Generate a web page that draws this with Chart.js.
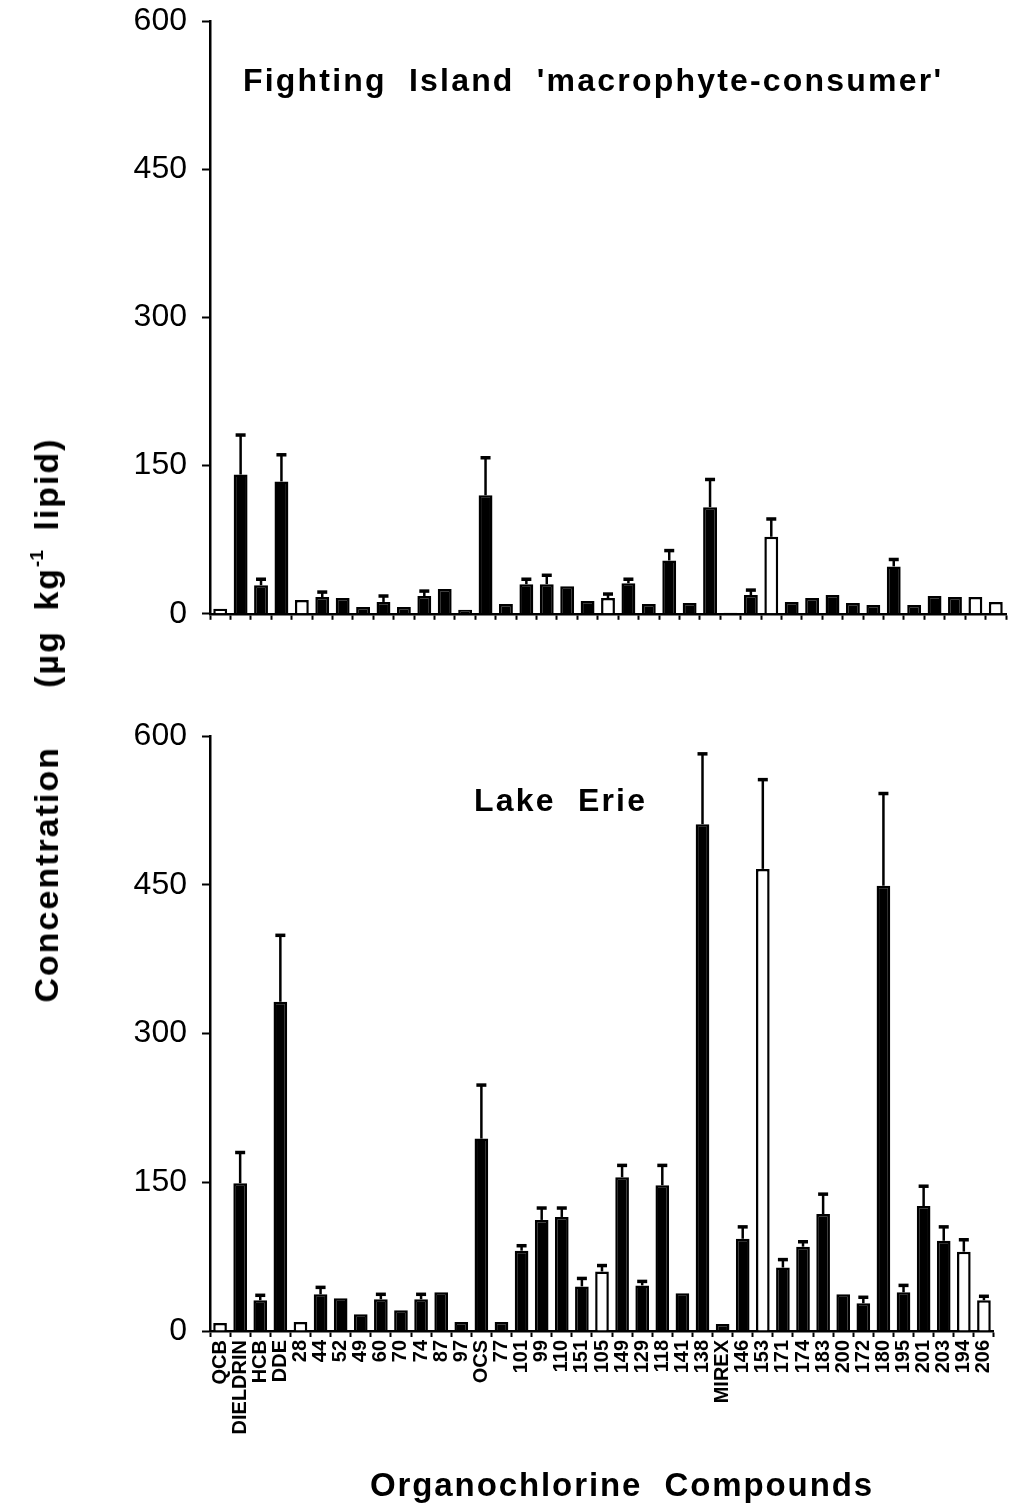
<!DOCTYPE html>
<html>
<head>
<meta charset="utf-8">
<script src="https://cdn.jsdelivr.net/npm/chart.js@4.4.1/dist/chart.umd.min.js"></script>
<style>
  body { margin: 0; background: #fff; }
  #wrap { position: relative; width: 1011px; height: 1509px; background: #fff; overflow: hidden; }
  canvas { position: absolute; left: 0; }
  .lbl { position: absolute; font-family: 'Liberation Sans', Arial, sans-serif; font-weight: bold; color: #000; white-space: pre; line-height: 1; }
  #ytitle { left: 45px; top: 720px; font-size: 34px; letter-spacing: 2px; word-spacing: 8px; transform: translate(-50%, -50%) rotate(-90deg); }
  #ytitle sup { font-size: 19px; vertical-align: 15px; letter-spacing: 0; }
</style>
</head>
<body>
<div id="wrap">
  <canvas id="top" width="1011" height="661" style="top:-13px"></canvas>
  <canvas id="bottom" width="1011" height="809" style="top:700px"></canvas>
  <div class="lbl" style="left:243px; top:64px; font-size:32px; letter-spacing:2.2px;">Fighting  Island  'macrophyte-consumer'</div>
  <div class="lbl" style="left:474px; top:784px; font-size:32px; letter-spacing:2.2px;">Lake  Erie</div>
  <div class="lbl" style="left:370px; top:1468px; font-size:33px; letter-spacing:1.9px;">Organochlorine  Compounds</div>
  <div class="lbl" id="ytitle">Concentration   (µg kg<sup>-1</sup> lipid)</div>
</div>
<script>
// compounds along the x axis
const compounds = ['QCB', 'DIELDRIN', 'HCB', 'DDE', '28', '44', '52', '49', '60', '70', '74', '87', '97',
  'OCS', '77', '101', '99', '110', '151', '105', '149', '129', '118', '141', '138', 'MIREX',
  '146', '153', '171', '174', '183', '200', '172', '180', '195', '201', '203', '194', '206'];

// compounds drawn as open (white) bars
const openBars = ['QCB', '28', '105', '153', '194', '206'];

// Fighting Island 'macrophyte-consumer' (ug/kg lipid)
const fightingMean = [5, 141, 29, 134, 14, 17, 16, 7, 12, 7, 18, 25, 4,
  120, 10, 30, 30, 28, 13, 16, 31, 10, 54, 11, 108, 1,
  19, 78, 12, 16, 19, 11, 9, 48, 9, 18, 17, 17, 12];
const fightingSD = [0, 40, 6, 27, 0, 5, 0, 0, 6, 0, 5, 0, 0,
  38, 0, 5, 9, 0, 0, 4, 4, 0, 10, 0, 28, 0,
  5, 18, 0, 0, 0, 0, 0, 7, 0, 0, 0, 0, 0];

// Lake Erie
const erieMean = [8, 149, 31, 332, 9, 37, 33, 17, 32, 21, 32, 39, 9,
  194, 9, 81, 112, 115, 45, 60, 155, 46, 147, 38, 511, 7,
  93, 466, 64, 85, 118, 37, 28, 449, 39, 126, 91, 80, 31];
const erieSD = [0, 31, 5, 67, 0, 7, 0, 0, 5, 0, 5, 0, 0,
  54, 0, 5, 12, 9, 8, 6, 12, 4, 20, 0, 71, 0,
  12, 90, 8, 5, 20, 0, 6, 93, 7, 20, 14, 12, 4];

const yTicks = [0, 150, 300, 450, 600];

const FONT = "'Liberation Sans', Arial, sans-serif";

// draws the +SD whiskers on top of each bar
const errorBars = {
  id: 'errorBars',
  afterDatasetsDraw(chart, args, opts) {
    const ctx = chart.ctx;
    const y = chart.scales.y;
    const meta = chart.getDatasetMeta(0);
    ctx.save();
    ctx.strokeStyle = '#000';
    meta.data.forEach((bar, i) => {
      const sd = opts.sd[i];
      if (!sd) return;
      const top = y.getPixelForValue(opts.mean[i] + sd);
      const base = y.getPixelForValue(opts.mean[i]);
      ctx.lineWidth = 2.5;
      ctx.beginPath();
      ctx.moveTo(bar.x, base);
      ctx.lineTo(bar.x, top);
      ctx.stroke();
      ctx.lineWidth = 3.5;
      ctx.beginPath();
      ctx.moveTo(bar.x - 5, top);
      ctx.lineTo(bar.x + 5, top);
      ctx.stroke();
    });
    ctx.restore();
  }
};

function makePanel(canvasId, mean, sd, showLabels, padTop, xHeight) {
  const fills = compounds.map(c => openBars.includes(c) ? '#fff' : '#000');
  return new Chart(document.getElementById(canvasId), {
    type: 'bar',
    data: {
      labels: compounds,
      datasets: [{
        data: mean,
        backgroundColor: fills,
        borderColor: '#000',
        borderWidth: 2.5,
        borderSkipped: 'bottom',
        categoryPercentage: 1,
        barPercentage: 0.68,
      }],
    },
    options: {
      responsive: false,
      animation: false,
      devicePixelRatio: 1,
      layout: { padding: { top: padTop, right: 5, left: 0, bottom: 0 } },
      plugins: {
        legend: { display: false },
        tooltip: { enabled: false },
        errorBars: { mean: mean, sd: sd },
      },
      scales: {
        x: {
          border: { color: '#000', width: 2.5 },
          grid: { drawOnChartArea: false, drawTicks: true, tickLength: 6, tickColor: '#000', tickWidth: 2 },
          ticks: {
            display: showLabels,
            autoSkip: false,
            minRotation: 90,
            maxRotation: 90,
            padding: 3,
            color: '#000',
            font: { family: FONT, size: 20, weight: 'bold' },
          },
          afterFit(scale) { scale.height = xHeight; },
        },
        y: {
          min: 0,
          max: 600,
          border: { color: '#000', width: 2.5 },
          grid: { drawOnChartArea: false, drawTicks: true, tickLength: 8, tickColor: '#000', tickWidth: 2 },
          afterBuildTicks(scale) { scale.ticks = yTicks.map(v => ({ value: v })); },
          ticks: {
            padding: 15,
            color: '#000',
            font: { family: FONT, size: 32 },
          },
          afterFit(scale) { scale.width = 210; },
        },
      },
    },
    plugins: [errorBars],
  });
}

makePanel('top', fightingMean, fightingSD, false, 8, 21);
makePanel('bottom', erieMean, erieSD, true, 36, 178);
</script>
</body>
</html>
